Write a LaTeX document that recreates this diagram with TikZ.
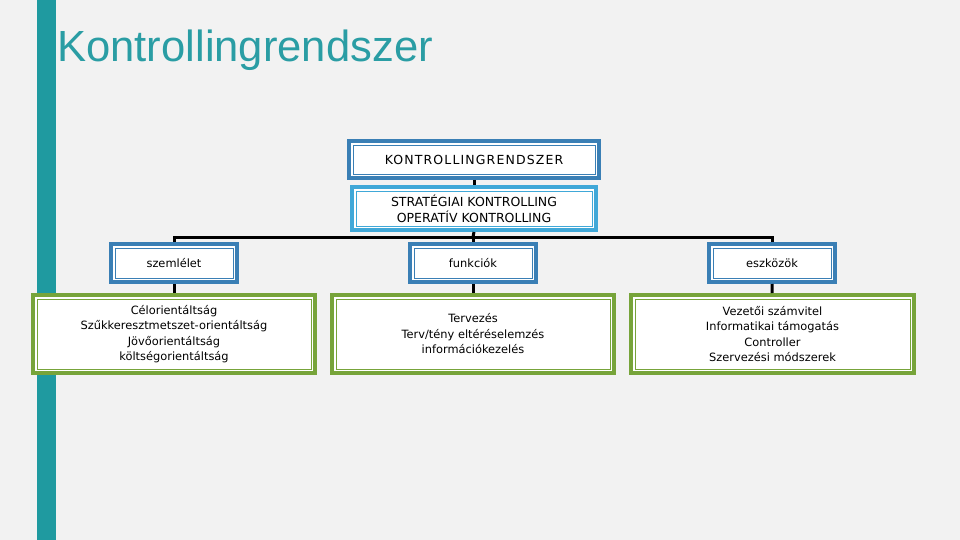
\documentclass[tikz,border=0pt]{standalone}
\usepackage{fontspec}
\setmainfont{Liberation Sans}
\newfontfamily\boxfont{DejaVu Sans}
\newfontfamily\capsfont[LetterSpace=9]{DejaVu Sans}
\definecolor{bgray}{HTML}{F2F2F2}
\definecolor{tealbar}{HTML}{1F9AA0}
\definecolor{titleteal}{HTML}{2A9DA4}
\definecolor{frameblue}{HTML}{3A7FB5}
\definecolor{lightblue}{HTML}{40A8D8}
\definecolor{framegreen}{HTML}{77A43A}
\begin{document}
\begin{tikzpicture}[x=1pt,y=-1pt,
  frame/.style={rectangle, fill=white, draw=#1, line width=0.9pt, outer sep=6pt,
    inner sep=0pt, align=center, text=black,
    font=\boxfont\fontsize{11.4}{15.5}\selectfont,
    preaction={draw=#1, line width=12pt},
    preaction={draw=white, line width=4pt}},
  link/.style={line width=3pt}]
  \fill[bgray] (0,0) rectangle (960,540);
  \fill[tealbar] (37,0) rectangle (56,540);
  \node[anchor=base west, text=titleteal, font=\fontsize{43.6}{50}\selectfont, inner sep=0pt]
    (title) at (57,62) {Kontrollingrendszer};

  \node[frame=frameblue, minimum width=242, minimum height=29,
    font=\capsfont\fontsize{12.5}{16}\selectfont] (rendszer) at (474,159.5)
    {KONTROLLINGRENDSZER};
  \node[frame=lightblue, minimum width=236, minimum height=35,
    font=\boxfont\fontsize{12.5}{16}\selectfont] (szintek) at (474,208.5)
    {STRATÉGIAI KONTROLLING\\OPERATÍV KONTROLLING};

  \node[frame=frameblue, minimum width=118, minimum height=30] (szemlelet) at (174,263) {szemlélet};
  \node[frame=frameblue, minimum width=118, minimum height=30] (funkciok) at (473,263) {funkciók};
  \node[frame=frameblue, minimum width=118, minimum height=30] (eszkozok) at (772,263) {eszközök};

  \node[frame=framegreen, minimum width=274, minimum height=70] (orient) at (174,334)
    {Célorientáltság\\Szűkkeresztmetszet-orientáltság\\Jövőorientáltság\\költségorientáltság};
  \node[frame=framegreen, minimum width=274, minimum height=70] (tervezes) at (473,334)
    {Tervezés\\Terv/tény eltéréselemzés\\információkezelés};
  \node[frame=framegreen, minimum width=275, minimum height=70] (modszerek) at (772.5,334)
    {Vezetői számvitel\\Informatikai támogatás\\Controller\\Szervezési módszerek};

  \coordinate (bus) at (473,237);
  \draw[link] (rendszer) -- (szintek);
  \draw[link] (szintek.south) -- (bus);
  \draw[link] (szemlelet.north) |- (bus);
  \draw[link] (eszkozok.north) |- (bus);
  \draw[link] (bus) -- (funkciok.north);
  \draw[link] (szemlelet) -- (orient);
  \draw[link] (funkciok) -- (tervezes);
  \draw[link] (eszkozok) -- (modszerek);
\end{tikzpicture}
\end{document}
